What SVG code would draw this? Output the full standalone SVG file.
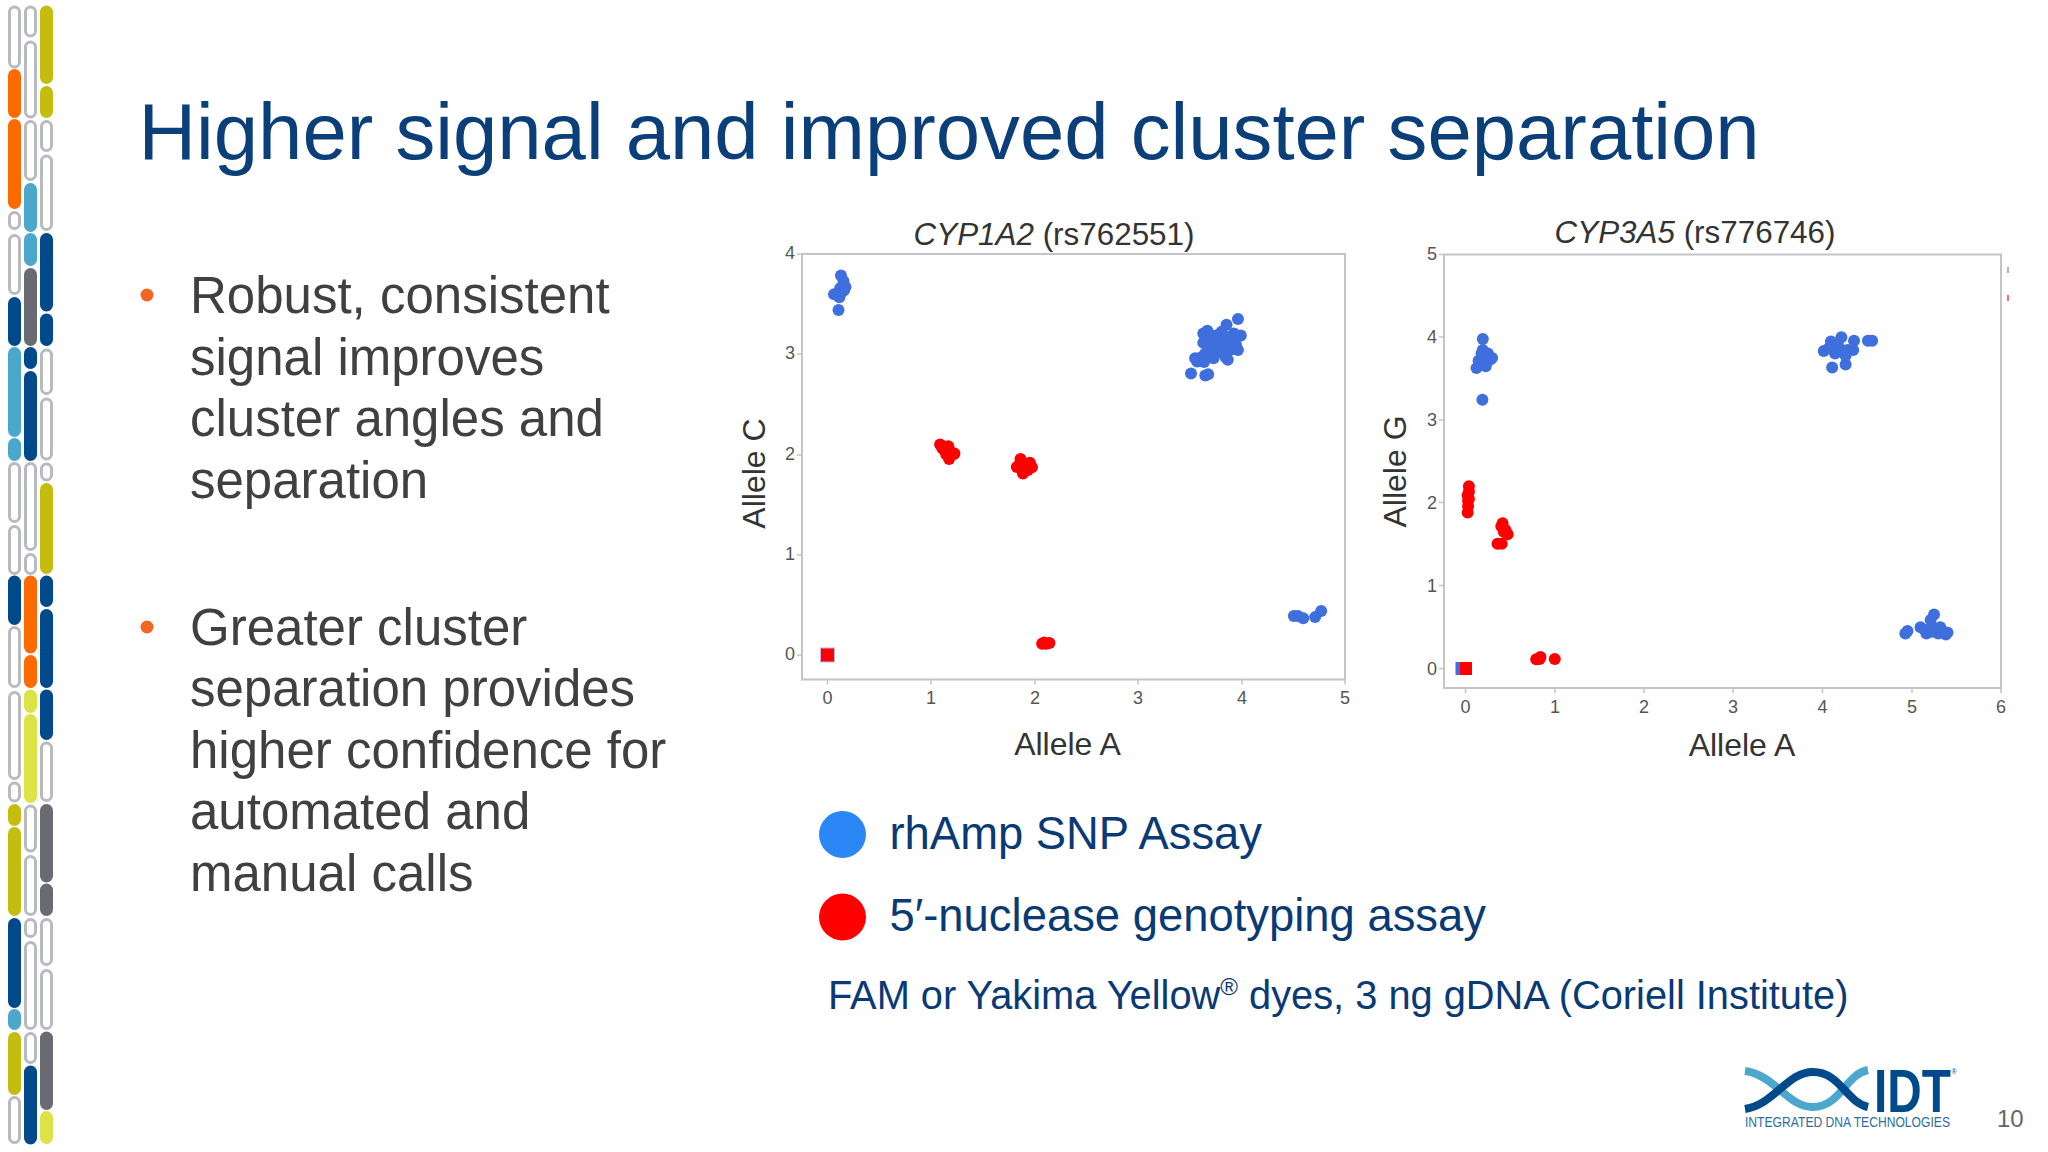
<svg xmlns="http://www.w3.org/2000/svg" width="2048" height="1152" viewBox="0 0 2048 1152">
<style>
text{font-family:"Liberation Sans",Arial,sans-serif}
.s rect{rx:6.5px;ry:6.5px;width:13px}
.s .w{fill:#fff;stroke:#b9b9c0;stroke-width:3;width:10px;rx:5px;ry:5px}
.o{fill:#ff6a00}.n{fill:#004a8c}.b{fill:#4ba8cc}.y{fill:#c4bd10}.l{fill:#dce345}.g{fill:#6a6b72}
.title{font-size:79.700px;fill:#0b3f7a}
.body{font-size:51px;fill:#404040}
.bul{fill:#f26522}
.frame{fill:#fff;stroke:#c3c3c8;stroke-width:2}
.tk{stroke:#c3c3c8;stroke-width:1.5}
.pt{font-size:31.400px;fill:#333}
.ax{font-size:32px;fill:#333}
.tx{font-size:18px;fill:#555;text-anchor:middle}
.ty{font-size:18px;fill:#555;text-anchor:end}
.lg{font-size:45.400px;fill:#0a3a75}
.nt{font-size:39.800px;fill:#0a3a75}
.bp ellipse{fill:#3e6fdc}.rp ellipse{fill:#f00}
.a ellipse{rx:14.700px;ry:16.500px}
.c ellipse{rx:14.250px;ry:16.500px}
</style>
<g id="chromosome-strip" class="s">
<rect class="w" x="9.5" y="7" height="60"/><rect class="o" x="8" y="69" height="49"/><rect class="o" x="8" y="119" height="90"/><rect class="w" x="9.5" y="212.5" height="16"/><rect class="w" x="9.5" y="235.5" height="58"/><rect class="n" x="8" y="297" height="49"/><rect class="b" x="8" y="347" height="90"/><rect class="b" x="8" y="438" height="23"/><rect class="w" x="9.5" y="463.5" height="58"/><rect class="w" x="9.5" y="526.5" height="47"/><rect class="n" x="8" y="575.5" height="49.5"/><rect class="w" x="9.5" y="627.5" height="59"/><rect class="w" x="9.5" y="692.5" height="86"/><rect class="w" x="9.5" y="783" height="18"/><rect class="y" x="8" y="804" height="22"/><rect class="y" x="8" y="827" height="89"/><rect class="n" x="8" y="918" height="90"/><rect class="b" x="8" y="1009" height="21"/><rect class="y" x="8" y="1032" height="63"/><rect class="w" x="9.5" y="1097.5" height="45"/>
<rect class="w" x="25.5" y="7" height="29"/><rect class="w" x="25.5" y="42" height="75"/><rect class="w" x="25.5" y="121.5" height="58"/><rect class="b" x="24" y="183" height="49"/><rect class="b" x="24" y="233" height="33"/><rect class="g" x="24" y="268" height="78"/><rect class="n" x="24" y="347" height="22"/><rect class="n" x="24" y="371" height="90"/><rect class="w" x="25.5" y="463.5" height="86"/><rect class="w" x="25.5" y="554.5" height="19"/><rect class="o" x="24" y="575.5" height="78"/><rect class="o" x="24" y="655" height="33"/><rect class="l" x="24" y="689.5" height="23.5"/><rect class="l" x="24" y="714" height="89"/><rect class="w" x="25.5" y="806" height="45"/><rect class="w" x="25.5" y="856.5" height="58"/><rect class="w" x="25.5" y="919.5" height="17"/><rect class="w" x="25.5" y="942.5" height="86"/><rect class="w" x="25.5" y="1033.5" height="29"/><rect class="n" x="24" y="1065.5" height="79"/>
<rect class="y" x="40" y="5.5" height="78.5"/><rect class="y" x="40" y="86" height="32"/><rect class="w" x="41.5" y="121.5" height="29"/><rect class="w" x="41.5" y="156" height="73.5"/><rect class="n" x="40" y="233" height="78.5"/><rect class="n" x="40" y="313.5" height="32.5"/><rect class="w" x="41.5" y="350" height="43.5"/><rect class="w" x="41.5" y="399" height="60"/><rect class="w" x="41.5" y="464" height="16"/><rect class="y" x="40" y="483" height="91"/><rect class="n" x="40" y="575.5" height="31.5"/><rect class="n" x="40" y="609" height="79"/><rect class="n" x="40" y="689.5" height="50.5"/><rect class="w" x="41.5" y="743" height="57.5"/><rect class="g" x="40" y="804" height="78.5"/><rect class="g" x="40" y="883.5" height="32.5"/><rect class="w" x="41.5" y="919.5" height="45"/><rect class="w" x="41.5" y="970.5" height="58"/><rect class="g" x="40" y="1031.5" height="78.5"/><rect class="l" x="40" y="1111" height="33"/>
</g>
<g id="title"><text class="title" x="138.500" y="159">Higher signal and improved cluster separation</text></g>
<g id="bullets">
<circle class="bul" cx="147" cy="295" r="6.5"/>
<text class="body" x="190"><tspan x="190" y="313">Robust, consistent</tspan><tspan x="190" y="374.500">signal improves</tspan><tspan x="190" y="436">cluster angles and</tspan><tspan x="190" y="497.500">separation</tspan></text>
<circle class="bul" cx="147" cy="627" r="6.500"/>
<text class="body" x="190"><tspan x="190" y="644.500">Greater cluster</tspan><tspan x="190" y="706">separation provides</tspan><tspan x="190" y="767.500">higher confidence for</tspan><tspan x="190" y="829">automated and</tspan><tspan x="190" y="890.500">manual calls</tspan></text>
</g>
<g id="plot-cyp1a2">
<rect class="frame" x="802" y="254" width="543" height="425.500"/>
<path class="tk" d="M827.500 679.500v5M931 679.500v5M1035 679.500v5M1138 679.500v5M1242 679.500v5M1345 679.500v5M802 254h-5M802 354h-5M802 455h-5M802 555h-5M802 655h-5"/>
<text class="pt" x="1054" y="244.500" text-anchor="middle"><tspan font-style="italic">CYP1A2</tspan> (rs762551)</text>
<text class="ax" x="1067.500" y="755" text-anchor="middle">Allele A</text>
<text class="ax" transform="translate(765 473.500) rotate(-90)" text-anchor="middle">Allele C</text>
<text class="tx" x="827.500" y="704">0</text><text class="tx" x="931" y="704">1</text><text class="tx" x="1035" y="704">2</text><text class="tx" x="1138" y="704">3</text><text class="tx" x="1242" y="704">4</text><text class="tx" x="1345" y="704">5</text>
<text class="ty" x="795" y="259">4</text><text class="ty" x="795" y="359">3</text><text class="ty" x="795" y="460">2</text><text class="ty" x="795" y="560">1</text><text class="ty" x="795" y="660">0</text>
<g class="a bp" transform="translate(730 210) scale(.408 .3635)">
<ellipse cx="272" cy="180"/><ellipse cx="278" cy="195"/><ellipse cx="280" cy="210"/><ellipse cx="275" cy="225"/><ellipse cx="265" cy="232"/><ellipse cx="255" cy="232"/><ellipse cx="280" cy="220"/><ellipse cx="270" cy="215"/><ellipse cx="268" cy="240"/><ellipse cx="283" cy="212"/><ellipse cx="266" cy="275"/>
<ellipse cx="1245" cy="300"/><ellipse cx="1217" cy="316"/><ellipse cx="1170" cy="332"/><ellipse cx="1160" cy="340"/><ellipse cx="1190" cy="345"/><ellipse cx="1235" cy="340"/><ellipse cx="1252" cy="345"/><ellipse cx="1205" cy="335"/><ellipse cx="1220" cy="350"/><ellipse cx="1160" cy="365"/><ellipse cx="1180" cy="370"/><ellipse cx="1200" cy="365"/><ellipse cx="1215" cy="370"/><ellipse cx="1240" cy="370"/><ellipse cx="1245" cy="385"/><ellipse cx="1225" cy="385"/><ellipse cx="1200" cy="385"/><ellipse cx="1180" cy="395"/><ellipse cx="1185" cy="408"/><ellipse cx="1215" cy="405"/><ellipse cx="1220" cy="412"/><ellipse cx="1165" cy="395"/><ellipse cx="1155" cy="405"/><ellipse cx="1140" cy="408"/><ellipse cx="1145" cy="417"/><ellipse cx="1162" cy="418"/><ellipse cx="1130" cy="450"/><ellipse cx="1165" cy="455"/><ellipse cx="1172" cy="452"/><ellipse cx="1195" cy="355"/><ellipse cx="1170" cy="350"/><ellipse cx="1210" cy="395"/><ellipse cx="1230" cy="365"/>
<ellipse cx="1382" cy="1117"/><ellipse cx="1392" cy="1117"/><ellipse cx="1405" cy="1123"/><ellipse cx="1434" cy="1120"/><ellipse cx="1449" cy="1103"/>
</g>
<g class="a rp" transform="translate(730 210) scale(.408 .3635)">
<ellipse cx="515" cy="645"/><ellipse cx="535" cy="650"/><ellipse cx="525" cy="660"/><ellipse cx="540" cy="665"/><ellipse cx="548" cy="672"/><ellipse cx="530" cy="672"/><ellipse cx="537" cy="685"/><ellipse cx="550" cy="670"/><ellipse cx="520" cy="655"/>
<ellipse cx="712" cy="685"/><ellipse cx="703" cy="707"/><ellipse cx="718" cy="725"/><ellipse cx="720" cy="700"/><ellipse cx="735" cy="695"/><ellipse cx="740" cy="708"/><ellipse cx="725" cy="710"/><ellipse cx="710" cy="700"/><ellipse cx="730" cy="715"/>
<ellipse cx="765" cy="1193"/><ellipse cx="775" cy="1193"/><ellipse cx="783" cy="1191"/><ellipse cx="770" cy="1190"/>
</g>
<rect x="820.500" y="648" width="14" height="14" fill="#f00" stroke="#b9b4ee" stroke-width="1"/>
</g>
<g id="plot-cyp3a5">
<rect class="frame" x="1444" y="254.500" width="557" height="433.500"/>
<path class="tk" d="M1465.500 688v5M1555 688v5M1644 688v5M1733 688v5M1822.500 688v5M1912 688v5M2001 688v5M1444 254.500h-5M1444 337h-5M1444 420h-5M1444 502.500h-5M1444 585.500h-5M1444 668.500h-5"/>
<text class="pt" x="1695" y="242.500" text-anchor="middle"><tspan font-style="italic">CYP3A5</tspan> (rs776746)</text>
<text class="ax" x="1742" y="756" text-anchor="middle">Allele A</text>
<text class="ax" transform="translate(1406 471.500) rotate(-90)" text-anchor="middle">Allele G</text>
<text class="tx" x="1465.500" y="713">0</text><text class="tx" x="1555" y="713">1</text><text class="tx" x="1644" y="713">2</text><text class="tx" x="1733" y="713">3</text><text class="tx" x="1822.500" y="713">4</text><text class="tx" x="1912" y="713">5</text><text class="tx" x="2001" y="713">6</text>
<text class="ty" x="1437" y="260">5</text><text class="ty" x="1437" y="343">4</text><text class="ty" x="1437" y="426">3</text><text class="ty" x="1437" y="508.500">2</text><text class="ty" x="1437" y="591.500">1</text><text class="ty" x="1437" y="674.500">0</text>
<g class="c bp" transform="translate(1370 210) scale(.4209 .3635)">
<ellipse cx="268" cy="355"/><ellipse cx="268" cy="385"/><ellipse cx="270" cy="400"/><ellipse cx="280" cy="395"/><ellipse cx="290" cy="407"/><ellipse cx="253" cy="435"/><ellipse cx="262" cy="425"/><ellipse cx="275" cy="430"/><ellipse cx="270" cy="415"/><ellipse cx="258" cy="415"/><ellipse cx="285" cy="412"/><ellipse cx="265" cy="395"/><ellipse cx="267" cy="522"/>
<ellipse cx="1078" cy="388"/><ellipse cx="1095" cy="362"/><ellipse cx="1120" cy="350"/><ellipse cx="1150" cy="360"/><ellipse cx="1105" cy="380"/><ellipse cx="1120" cy="385"/><ellipse cx="1135" cy="385"/><ellipse cx="1148" cy="385"/><ellipse cx="1098" cy="433"/><ellipse cx="1130" cy="425"/><ellipse cx="1183" cy="360"/><ellipse cx="1193" cy="360"/><ellipse cx="1105" cy="395"/><ellipse cx="1130" cy="400"/><ellipse cx="1090" cy="380"/><ellipse cx="1112" cy="372"/>
<ellipse cx="1272" cy="1165"/><ellipse cx="1277" cy="1158"/><ellipse cx="1308" cy="1148"/><ellipse cx="1322" cy="1165"/><ellipse cx="1340" cy="1113"/><ellipse cx="1332" cy="1128"/><ellipse cx="1340" cy="1150"/><ellipse cx="1355" cy="1148"/><ellipse cx="1350" cy="1165"/><ellipse cx="1368" cy="1168"/><ellipse cx="1372" cy="1162"/><ellipse cx="1335" cy="1160"/><ellipse cx="1318" cy="1155"/>
</g>
<g class="c rp" transform="translate(1370 210) scale(.4209 .3635)">
<ellipse cx="235" cy="760"/><ellipse cx="232" cy="785"/><ellipse cx="233" cy="800"/><ellipse cx="233" cy="815"/><ellipse cx="232" cy="832"/><ellipse cx="235" cy="775"/><ellipse cx="235" cy="795"/>
<ellipse cx="315" cy="862"/><ellipse cx="312" cy="870"/><ellipse cx="322" cy="880"/><ellipse cx="327" cy="892"/><ellipse cx="303" cy="918"/><ellipse cx="313" cy="918"/><ellipse cx="318" cy="885"/>
<ellipse cx="395" cy="1236"/><ellipse cx="405" cy="1230"/><ellipse cx="403" cy="1235"/><ellipse cx="439" cy="1235"/>
</g>
<rect x="1455.500" y="662" width="13" height="13" fill="#3e6fdc"/>
<rect x="1460" y="662" width="12" height="13" fill="#f00"/>
<rect x="2007" y="267" width="2" height="6" fill="#9db4e8"/>
<rect x="2007" y="295" width="2" height="6" fill="#f07070"/>
</g>
<g id="legend-rhamp"><circle cx="842.500" cy="834.500" r="23.500" fill="#2a87f5"/><text class="lg" x="889.500" y="849">rhAmp SNP Assay</text></g>
<g id="legend-5nuclease"><circle cx="842.500" cy="917" r="23.500" fill="#f00"/><text class="lg" x="889.500" y="931">5′-nuclease genotyping assay</text></g>
<g id="note"><text class="nt" x="828" y="1009">FAM or Yakima Yellow<tspan font-size="24" dy="-14">®</tspan><tspan dy="14"> dyes, 3 ng gDNA (Coriell Institute)</tspan></text></g>
<g id="logo">
<path d="M1745 1071C1775 1075 1787 1107 1813 1107C1840 1107 1846 1074 1868 1070" fill="none" stroke="#4ba8cc" stroke-width="8"/>
<path d="M1745 1109C1775 1104 1787 1072 1813 1072C1840 1072 1846 1102 1868 1107" fill="none" stroke="#004a8c" stroke-width="8"/>
<text x="1874" y="1112" font-size="61" font-weight="700" fill="#004a8c" textLength="77" lengthAdjust="spacingAndGlyphs">IDT</text>
<text x="1951.500" y="1074" font-size="7" fill="#004a8c">®</text>
<text x="1745" y="1127" font-size="14.500" fill="#2e6e9e" textLength="205" lengthAdjust="spacingAndGlyphs">INTEGRATED DNA TECHNOLOGIES</text>
</g>
<g id="page-number"><text x="1997" y="1127" font-size="24" fill="#666">10</text></g>
</svg>
